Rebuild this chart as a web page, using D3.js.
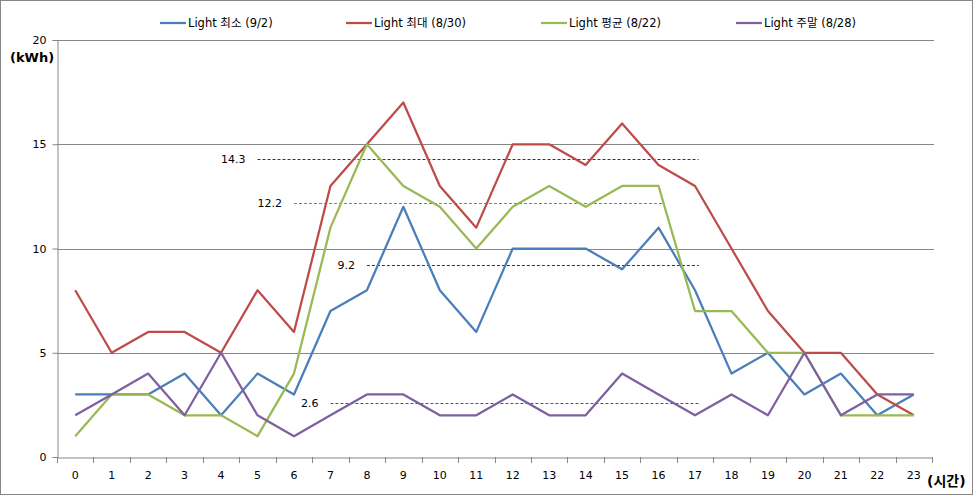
<!DOCTYPE html>
<html>
<head>
<meta charset="utf-8">
<script src="https://cdn.jsdelivr.net/npm/d3@7"></script>
<style>
  body { margin: 0; background: #fff; }
  svg { display: block; font-family: "DejaVu Sans", "Noto Sans CJK KR", sans-serif; }
</style>
</head>
<body>
<div id="chart"></div>
<script>
// hours 0..23
const hours = d3.range(0, 24);
const yTicks = [0, 5, 10, 15, 20];

const seriesNames = ['Light 최소 (9/2)', 'Light 최대 (8/30)', 'Light 평균 (8/22)', 'Light 주말 (8/28)'];
const seriesColors = ['#4a7ebb', '#be4b48', '#98b954', '#7d60a0'];

const minValues  = [3, 3, 3, 4, 2, 4, 3, 7, 8, 12, 8, 6, 10, 10, 10, 9, 11, 8, 4, 5, 3, 4, 2, 3];
const maxValues  = [8, 5, 6, 6, 5, 8, 6, 13, 15, 17, 13, 11, 15, 15, 14, 16, 14, 13, 10, 7, 5, 5, 3, 2];
const avgValues  = [1, 3, 3, 2, 2, 1, 4, 11, 15, 13, 12, 10, 12, 13, 12, 13, 13, 7, 7, 5, 5, 2, 2, 2];
const wkndValues = [2, 3, 4, 2, 5, 2, 1, 2, 3, 3, 2, 2, 3, 2, 2, 4, 3, 2, 3, 2, 5, 2, 3, 3];

// dashed average markers: value, from hour, to hour
const refValues = [14.3, 12.2, 9.2, 2.6];
const refFrom   = [5, 6, 8, 7];
const refTo     = [17.1, 16.1, 17.1, 17.1];
const refColors = ['#c00000', '#77933c', '#1f3864', '#604a7b'];

const allSeries = [minValues, maxValues, avgValues, wkndValues];

const W = 973, H = 495;
const plotL = 57, plotR = 932, plotT = 40, plotB = 457;

const svg = d3.select('#chart').append('svg').attr('width', W).attr('height', H);

svg.append('rect').attr('x', 0.5).attr('y', 0.5).attr('width', W - 1).attr('height', H - 1)
    .attr('fill', '#fff').attr('stroke', '#868686');

const x = d3.scaleBand().domain(hours).range([plotL, plotR]);
const xc = h => plotL + (h + 0.5) * x.step();
const y = d3.scaleLinear().domain([0, 20]).range([plotB, plotT]);

// grid
svg.append('g').selectAll('line').data(yTicks.filter(d => d > 0)).join('line')
    .attr('x1', plotL).attr('x2', 934)
    .attr('y1', d => Math.round(y(d)) + 0.5).attr('y2', d => Math.round(y(d)) + 0.5)
    .attr('stroke', '#868686');

// y axis
const yAxis = svg.append('g').attr('transform', `translate(${plotL + 0.5},0)`)
    .call(d3.axisLeft(y).tickValues(yTicks).tickSize(5).tickPadding(6));
// x axis
const xAxis = svg.append('g').attr('transform', `translate(0,${Math.round(plotB) + 0.5})`)
    .call(d3.axisBottom(x).tickSize(0).tickPadding(14));
[yAxis, xAxis].forEach(g => {
    g.select('.domain').attr('stroke', '#868686');
    g.selectAll('.tick line').attr('stroke', '#868686');
    g.selectAll('text').attr('font-size', 11).attr('fill', '#000')
        .attr('font-family', 'DejaVu Sans, sans-serif');
});
// band boundary ticks on x axis
svg.append('g').selectAll('line').data(d3.range(0, 25)).join('line')
    .attr('x1', d => Math.round(plotL + d * x.step()) + 0.5)
    .attr('x2', d => Math.round(plotL + d * x.step()) + 0.5)
    .attr('y1', Math.round(plotB)).attr('y2', Math.round(plotB) + 6)
    .attr('stroke', '#868686');

// dashed reference lines
refValues.forEach((v, i) => {
    svg.append('line')
        .attr('x1', xc(refFrom[i])).attr('x2', xc(refTo[i]))
        .attr('y1', Math.round(y(v)) + 0.5).attr('y2', Math.round(y(v)) + 0.5)
        .attr('stroke', refColors[i]).attr('stroke-dasharray', '3,2');
    svg.append('text')
        .attr('x', xc(refFrom[i]) - 12).attr('y', y(v) + 4)
        .attr('text-anchor', 'end').attr('font-size', 11).text(v);
});

// series lines
const line = d3.line().x((d, i) => xc(hours[i])).y(d => y(d));
allSeries.forEach((vals, i) => {
    svg.append('path').datum(vals).attr('d', line)
        .attr('fill', 'none').attr('stroke', seriesColors[i])
        .attr('stroke-width', 2.25).attr('stroke-linejoin', 'round');
});

// legend
const legendX = [160, 346, 541, 736];
seriesNames.forEach((n, i) => {
    svg.append('line').attr('x1', legendX[i]).attr('x2', legendX[i] + 26)
        .attr('y1', 23).attr('y2', 23)
        .attr('stroke', seriesColors[i]).attr('stroke-width', 2.25);
    svg.append('text').attr('x', legendX[i] + 28).attr('y', 27)
        .attr('font-size', 11.5).text(n);
});

// unit labels
svg.append('text').attr('x', 10).attr('y', 62).attr('font-size', 13)
    .attr('font-weight', 'bold').text('(kWh)');
svg.append('text').attr('x', 927).attr('y', 486).attr('font-size', 14)
    .attr('font-weight', 'bold').text('(시간)');
</script>
</body>
</html>
